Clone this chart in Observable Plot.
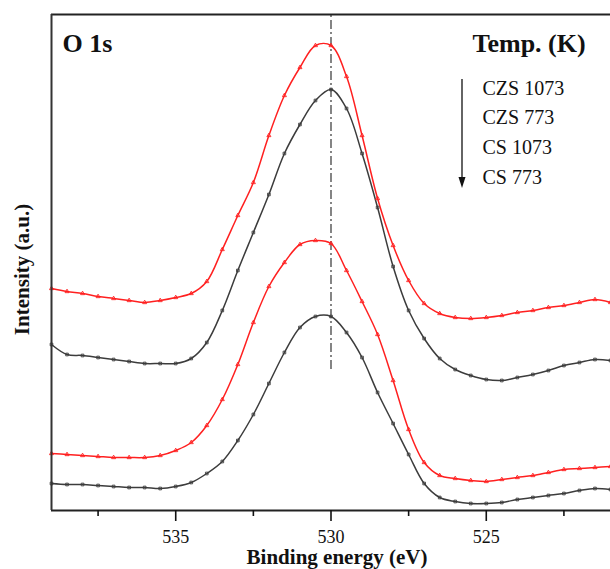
<!DOCTYPE html>
<html><head><meta charset="utf-8">
<script src="https://cdn.jsdelivr.net/npm/d3@7"></script>
<script src="https://cdn.jsdelivr.net/npm/@observablehq/plot@0.6"></script>
<style>body{margin:0;background:#fff}#chart svg{display:block}#chart svg text{font-family:"Liberation Serif","Times New Roman",serif}</style>
</head><body><div id="chart"></div>
<script>
// Binding energy grid (eV)
const energy = [539,538.5,538,537.5,537,536.5,536,535.5,535,534.5,534,533.5,533,532.5,532,531.5,531,530.5,530,529.5,529,528.5,528,527.5,527,526.5,526,525.5,525,524.5,524,523.5,523,522.5,522,521.5,521];
// Intensities (a.u., offset stacked as in the figure)
const czs1073 = [222,219,217,214,212,210,208,210,213,217,229,261,295,328,375,415,443,465,465,434,375,312,265,230,207,197,193,192,193,195,198,200,203,205,208,211,208];
const czs773  = [166,156,155,153,151,149,147,147,147,152,168,200,240,278,316,357,386,410,421,402,357,303,244,200,172,152,141,135,131,130,133,136,140,145,148,151,150];
const cs1073  = [57,56,55,54,53,53,53,55,60,68,85,111,146,188,224,248,266,270,267,240,209,176,130,81,48,35,32,30,29,31,33,35,38,41,42,43,44];
const cs773   = [27,26,26,25,24,23,23,22,24,28,37,49,70,96,127,158,183,194,194,178,153,118,87,56,27,13,9,7,7,8,11,13,15,17,20,22,21];
const seriesNames = ["CZS 1073","CZS 773","CS 1073","CS 773"];
const seriesColors = ["#ff2020","#3c3c3c","#ff2020","#3c3c3c"];
const seriesSymbols = ["triangle","square","triangle","square"];
const xDomain = [539, 521];
const yDomain = [0, 496];
const xTicks = [535, 530, 525];
const xMinorTicks = [537.5, 532.5, 527.5, 522.5];
const peakEnergy = [530];
const peakLineSpan = [141, 496];
const panelLabel = "O 1s";
const legendTitle = "Temp. (K)";
const xLabel = "Binding energy (eV)";
const yLabel = "Intensity (a.u.)";

const seriesValues = [czs1073, czs773, cs1073, cs773];
const rows = seriesValues.flatMap((arr, s) => arr.map((v, i) => ({series: seriesNames[s], energy: energy[i], intensity: v, sym: seriesSymbols[s]})));

const font = "Liberation Serif";

const legendMarks = seriesNames.map((name, i) =>
  Plot.text([name], {frameAnchor: "top-left", dx: 431, dy: 66 + i * 29.7, lineAnchor: "top", textAnchor: "start", fontSize: 20, fontFamily: font, fill: "#111"})
);

const arrowMark = (index, scales, values, dims) => {
  const g = d3.create("svg:g");
  const x = dims.marginLeft + 411;
  const y1 = dims.marginTop + 65, y2 = dims.marginTop + 174;
  g.append("line").attr("x1", x).attr("x2", x).attr("y1", y1).attr("y2", y2 - 8).attr("stroke", "#111").attr("stroke-width", 1.3);
  g.append("path").attr("d", `M${x - 3.5},${y2 - 11}L${x + 3.5},${y2 - 11}L${x},${y2}Z`).attr("fill", "#111");
  return g.node();
};

const chart = Plot.plot({
  width: 610,
  height: 569,
  marginLeft: 51,
  marginRight: 0,
  marginTop: 14,
  marginBottom: 59,
  style: {fontFamily: font, background: "#fff", color: "#111"},
  x: {domain: xDomain, axis: null},
  y: {domain: yDomain, axis: null},
  color: {domain: seriesNames, range: seriesColors},
  marks: [
    Plot.ruleX(peakEnergy, {y1: peakLineSpan[0], y2: peakLineSpan[1], stroke: "#444", strokeWidth: 1.3, strokeDasharray: "9,3,2,3"}),
    Plot.line(rows, {x: "energy", y: "intensity", z: "series", stroke: "series", curve: "catmull-rom", strokeWidth: 1.5}),
    Plot.dot(rows, {x: "energy", y: "intensity", stroke: "series", symbol: "sym", r: 1.5, fill: "none", strokeWidth: 0.9}),
    Plot.ruleY([yDomain[0]], {stroke: "#222", strokeWidth: 2}),
    Plot.ruleY([yDomain[1]], {stroke: "#222", strokeWidth: 2}),
    Plot.ruleX([xDomain[0]], {stroke: "#333", strokeWidth: 2}),
    Plot.axisX(xTicks, {anchor: "bottom", tickSize: 11, tickPadding: 9, fontSize: 18, fontFamily: font, strokeWidth: 1.6, label: null, tickFormat: d => String(d)}),
    Plot.axisX(xMinorTicks, {anchor: "bottom", tickSize: 6, strokeWidth: 1.6, label: null, tickFormat: () => ""}),
    Plot.text([xLabel], {frameAnchor: "bottom", dx: 6, dy: 39, lineAnchor: "top", textAnchor: "middle", fontSize: 21, fontWeight: "bold", fontFamily: font, fill: "#111"}),
    Plot.text([yLabel], {frameAnchor: "left", dx: -29, dy: 7, rotate: -90, textAnchor: "middle", lineAnchor: "middle", fontSize: 21, fontWeight: "bold", fontFamily: font, fill: "#111"}),
    Plot.text([panelLabel], {frameAnchor: "top-left", dx: 11, dy: 19.5, lineAnchor: "top", textAnchor: "start", fontSize: 26, fontWeight: "bold", fontFamily: font, fill: "#111"}),
    Plot.text([legendTitle], {frameAnchor: "top-left", dx: 421, dy: 19.5, lineAnchor: "top", textAnchor: "start", fontSize: 26, fontWeight: "bold", fontFamily: font, fill: "#111"}),
    ...legendMarks,
    arrowMark
  ]
});
document.getElementById("chart").append(chart);
</script>
</body></html>
